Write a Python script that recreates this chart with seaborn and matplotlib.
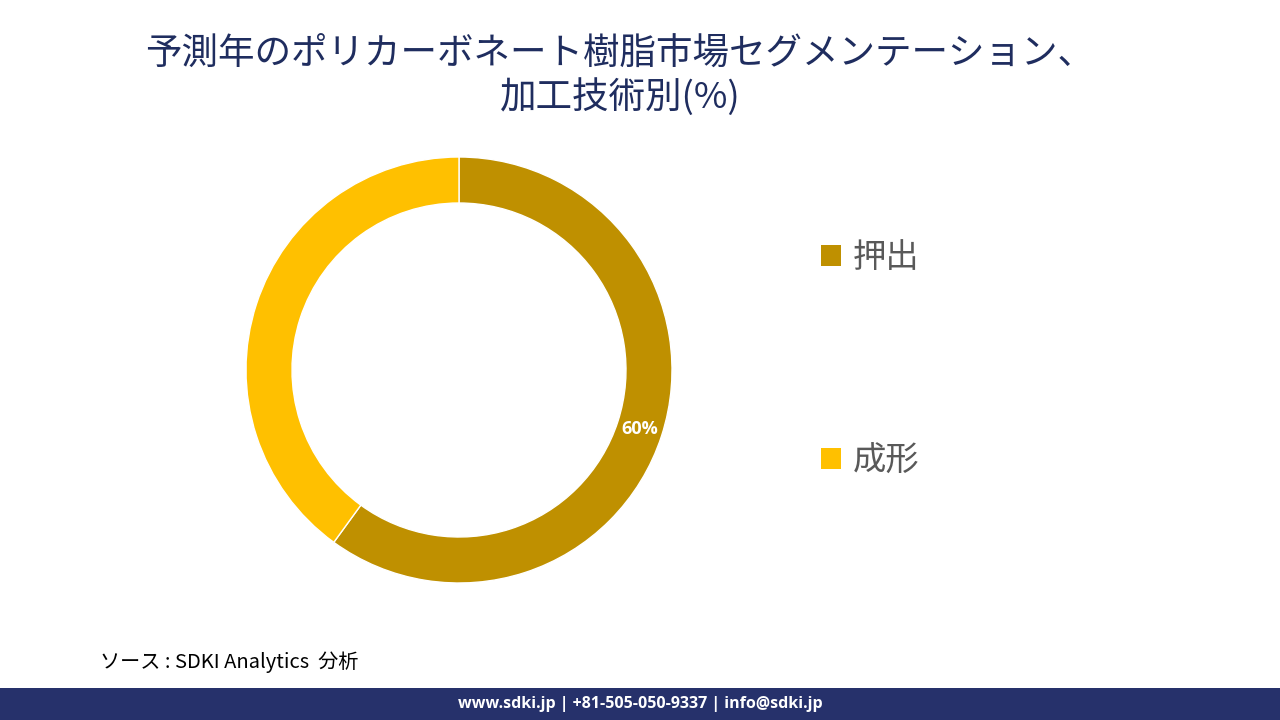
import matplotlib
matplotlib.use("Agg")
import matplotlib.pyplot as plt
import seaborn as sns
import numpy as np
from matplotlib.patches import Patch, Rectangle

categories = ["押出", "成形"]
values = [60, 40]
pct_labels = ["60%", ""]
colors = ["#BF9000", "#FFC000"]

title_lines = "予測年のポリカーボネート樹脂市場セグメンテーション、\n加工技術別(%)"
source_text = "ソース : SDKI Analytics  分析"
footer_text = "www.sdki.jp | +81-505-050-9337 | info@sdki.jp"

sns.set_theme(style="white")
plt.rcParams['font.family'] = ['Noto Sans CJK JP', 'DejaVu Sans']

fig = plt.figure(figsize=(12.8, 7.2), dpi=100)
fig.patch.set_facecolor("white")

# donut axes: center (459,370) px, radius 213 px
cx, cy, r = 459 / 1280, 1 - 370 / 720, 213
ax = fig.add_axes([cx - r / 1280, cy - r / 720, 2 * r / 1280, 2 * r / 720])
wedges, _ = ax.pie(values, colors=colors, startangle=90, counterclock=False,
                   radius=1.0, wedgeprops=dict(width=46 / 213, edgecolor="white", linewidth=1))
for w, lab in zip(wedges, pct_labels):
    if not lab:
        continue
    ang = np.deg2rad((w.theta1 + w.theta2) / 2)
    ax.text(0.89 * np.cos(ang), 0.89 * np.sin(ang), lab, ha="center", va="center",
            color="white", fontsize=13, fontweight="bold", family=["Open Sans", "DejaVu Sans"])
ax.set_xlim(-1, 1)
ax.set_ylim(-1, 1)
ax.set_aspect("equal")
ax.axis("off")

handles = [Patch(facecolor=c, edgecolor="none") for c in colors]
fig.legend(handles, categories, loc="upper left", bbox_to_anchor=(821 / 1280, 1 - 240 / 720),
           frameon=False, fontsize=24, labelcolor="#595959", handlelength=0.6, handleheight=0.6,
           handletextpad=0.35, labelspacing=5.05, borderpad=0, borderaxespad=0)

fig.text(620 / 1280, 1 - 76 / 720, title_lines, ha="center", va="center", fontsize=26.3,
         color="#1F2D5F", linespacing=1.2)

fig.text(100 / 1280, 1 - 662 / 720, source_text, ha="left", va="center", fontsize=14.5,
         color="black", style="italic")

fig.add_artist(Rectangle((0, 0), 1, 32 / 720, transform=fig.transFigure,
                         facecolor="#26316B", edgecolor="none"))
fig.text(640 / 1280, 16 / 720, footer_text, ha="center", va="center", fontsize=11.5,
         color="white", fontweight="bold", family=["Open Sans", "DejaVu Sans"])

fig.savefig("out.png", dpi=100)
